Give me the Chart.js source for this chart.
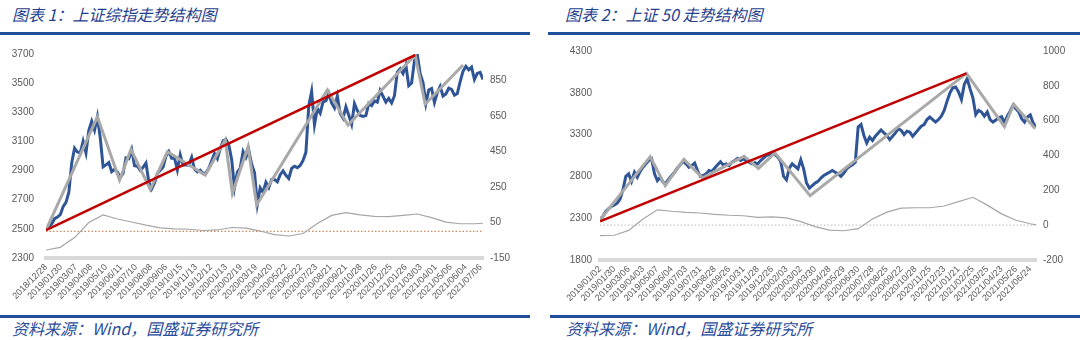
<!DOCTYPE html>
<html>
<head>
<meta charset="utf-8">
<script src="https://cdn.jsdelivr.net/npm/chart.js@4.4.0/dist/chart.umd.min.js"></script>
<style>
  body { margin: 0; width: 1080px; height: 340px; background: #fff; position: relative; overflow: hidden;
         font-family: "Noto Sans CJK SC", sans-serif; }
  .title { position: absolute; top: 2px; font-size: 16px; font-style: italic; color: #1f3f8f; white-space: nowrap; }
  .src { position: absolute; top: 316px; font-size: 16px; font-style: italic; color: #2a4d9c; white-space: nowrap; }
  .rule { position: absolute; height: 3px; background: #1f4e9c; }
  canvas { position: absolute; top: 36px; }
</style>
</head>
<body>
<div class="title" style="left:12px">图表 1：上证综指走势结构图</div>
<div class="title" style="left:565px">图表 2：上证 50 走势结构图</div>
<div class="rule" style="left:0;width:530px;top:32px"></div>
<div class="rule" style="left:548px;width:532px;top:32px"></div>
<div class="rule" style="left:0;width:530px;top:315px"></div>
<div class="rule" style="left:550px;width:530px;top:315px"></div>
<div class="src" style="left:12px">资料来源：Wind，国盛证券研究所</div>
<div class="src" style="left:566px">资料来源：Wind，国盛证券研究所</div>
<canvas id="c1" width="535" height="280" style="left:0"></canvas>
<canvas id="c2" width="540" height="280" style="left:540px"></canvas>
<script>
// ---- chart 1: 上证综指 (x = trading-day index) ----
const dates1 = ["2018/12/28","2019/01/30","2019/03/07","2019/04/08","2019/05/10","2019/06/11","2019/07/10",
  "2019/08/08","2019/09/06","2019/10/15","2019/11/13","2019/12/12","2020/01/13","2020/02/19","2020/03/19",
  "2020/04/20","2020/05/22","2020/06/22","2020/07/23","2020/08/21","2020/09/21","2020/10/28","2020/11/26",
  "2020/12/25","2021/01/26","2021/03/03","2021/04/01","2021/05/06","2021/06/04","2021/07/06"];
const labelStep1 = 21;
const lastDay1 = 612;
const priceStep = 4;
const price1 = [
  2494, 2514, 2535, 2570, 2581, 2597, 2653, 2682, 2751, 2953,
  3054, 3027, 3021, 3101, 3022, 3176, 3239, 3177, 3270, 3124,
  2926, 2939, 2955, 2892, 2909, 2890, 2852, 2882, 2987, 2982,
  3043, 2933, 2930, 2901, 2923, 2952, 2821, 2774, 2815, 2880,
  2902, 2924, 2999, 3031, 2985, 2985, 2905, 3008, 2938, 2940,
  2939, 2991, 2909, 2891, 2903, 2880, 2884, 2915, 2967, 3017,
  2982, 3050, 3104, 3115, 3075, 2977, 2783, 2890, 2917, 3030,
  2990, 3040, 2943, 2887, 2670, 2781, 2750, 2820, 2783, 2838,
  2838, 2823, 2872, 2898, 2868, 2846, 2915, 2930, 2920, 2935,
  2970, 3025, 3345, 3443, 3214, 3325, 3294, 3371, 3379, 3430,
  3364, 3330, 3411, 3292, 3260, 3338, 3279, 3218, 3359, 3312,
  3278, 3272, 3277, 3360, 3346, 3378, 3369, 3449, 3410, 3369,
  3395, 3364, 3414, 3576, 3598, 3566, 3624, 3483, 3501, 3655,
  3696, 3564, 3503, 3360, 3453, 3463, 3367, 3435, 3477, 3412,
  3426, 3465, 3457, 3418, 3429, 3510, 3581, 3615, 3592, 3610,
  3525, 3567, 3574, 3525];
const zigDays1 = [0, 72, 103, 119, 146, 170, 223, 251, 261, 283, 295, 394, 423, 517, 531, 584];
const zigVals1 = [2492, 3269, 2835, 3046, 2771, 3029, 2869, 3110, 2744, 3064, 2664, 3453, 3213, 3693, 3355, 3624];
const trendDays1 = [0, 517];
const trendVals1 = [2492, 3693];
const oscStep = 20;
const osc1 = [-105, -90, -35, 50, 93, 70, 53, 35, 20, 14, 12, 5, 8, 22, 18, 2,
  -18, -26, -12, 45, 90, 106, 93, 85, 83, 90, 98, 78, 52, 43, 43, 46];
const leftTicks1 = [2300, 2500, 2700, 2900, 3100, 3300, 3500, 3700];
const rightTicks1 = [-150, 50, 250, 450, 650, 850];

// ---- chart 2: 上证50 ----
const dates2 = ["2019/01/02","2019/01/30","2019/03/06","2019/04/03","2019/05/07","2019/06/04","2019/07/03",
  "2019/07/31","2019/08/28","2019/09/26","2019/10/31","2019/11/28","2019/12/26","2020/02/03","2020/03/02",
  "2020/03/30","2020/04/28","2020/05/29","2020/06/30","2020/07/28","2020/08/25","2020/09/22","2020/10/28",
  "2020/11/25","2020/12/23","2021/01/21","2021/02/25","2021/03/25","2021/04/23","2021/05/26","2021/06/24"];
const labelStep2 = 20;
const lastDay2 = 608;
const price2 = [
  2290, 2320, 2380, 2415, 2440, 2458, 2480, 2530, 2640, 2800,
  2830, 2740, 2850, 2790, 2860, 2910, 2950, 2990, 3010, 2830,
  2750, 2790, 2730, 2720, 2770, 2810, 2850, 2900, 2940, 2980,
  2950, 2910, 2930, 2960, 2870, 2800, 2810, 2830, 2870, 2860,
  2900, 2940, 2975, 2935, 2950, 2930, 2970, 2990, 3015, 2990,
  3010, 2985, 2970, 2950, 2965, 2950, 2990, 3020, 3050, 3060,
  3080, 3060, 3030, 2980, 2800, 2760, 2900, 2950, 2920, 2890,
  3000, 2890, 2720, 2660, 2690, 2720, 2740, 2780, 2810, 2830,
  2850, 2870, 2850, 2830, 2800, 2840, 2890, 2920, 2940, 2970,
  3390, 3420, 3290, 3200, 3270, 3230, 3280, 3320, 3355, 3320,
  3290, 3240, 3280, 3320, 3370, 3350, 3300, 3340, 3330, 3280,
  3320, 3360, 3400, 3420, 3480, 3510, 3480, 3450, 3480, 3520,
  3590, 3700, 3800, 3860, 3870, 3810, 3720, 3900, 3970, 3850,
  3740, 3540, 3590, 3570, 3520, 3570, 3480, 3450, 3475, 3500,
  3515, 3440, 3520, 3580, 3650, 3610, 3570, 3490, 3450, 3510,
  3535, 3440, 3390];
const zigDays2 = [0, 70, 91, 117, 143, 201, 221, 244, 293, 511, 564, 577, 607];
const zigVals2 = [2278, 3036, 2690, 3004, 2783, 3040, 2896, 3082, 2570, 4033, 3394, 3663, 3370];
const trendDays2 = [0, 511];
const trendVals2 = [2262, 4033];
const osc2 = [-60, -58, -30, 35, 88, 80, 74, 70, 62, 57, 54, 45, 48, 42, 20, -8,
  -28, -32, -20, 35, 75, 98, 100, 100, 110, 135, 160, 115, 65, 28, 8, 2];
const leftTicks2 = [1800, 2300, 2800, 3300, 3800, 4300];
const rightTicks2 = [-200, 0, 200, 400, 600, 800, 1000];

function pairs(xs, ys) { return ys.map((v, i) => ({ x: xs[i], y: v })); }

function buildChart(id, o) {
  const tickFont = { family: "'Liberation Sans', Arial, sans-serif", size: 10 };
  const sized = (prop, v) => (s) => { s[prop] = v; };
  const plain = (v) => String(v);   // no thousands separator
  return new Chart(document.getElementById(id), {
    type: 'line',
    data: {
      datasets: [
        { data: pairs(o.trendDays, o.trendVals), yAxisID: 'y', borderColor: '#c00000', borderWidth: 2.5, order: 0 },
        { data: pairs(o.zigDays, o.zigVals), yAxisID: 'y', borderColor: '#a9a9a9', borderWidth: 3, order: 1 },
        { data: o.price.map((v, i) => ({ x: Math.min(i * priceStep, o.lastDay), y: v })), yAxisID: 'y',
          borderColor: '#2f5597', borderWidth: 3, order: 2 },
        { data: o.osc.map((v, i) => ({ x: Math.min(i * oscStep, o.lastDay), y: v })), yAxisID: 'y2',
          borderColor: '#a6a6a6', borderWidth: 1.2, order: 3 },
        { data: [{ x: 0, y: 0 }, { x: o.lastDay, y: 0 }], yAxisID: 'y2', borderColor: o.zeroColor,
          borderWidth: 1.2, borderDash: [1.5, 2], order: 4 }
      ]
    },
    options: {
      responsive: false,
      animation: false,
      events: [],
      elements: { point: { radius: 0 }, line: { tension: 0, fill: false } },
      layout: { padding: { top: o.padTop, left: 0, right: 0, bottom: 0 } },
      plugins: { legend: { display: false }, tooltip: { enabled: false } },
      scales: {
        x: {
          type: 'linear', min: 0, max: o.lastDay,
          grid: { display: false, drawTicks: false },
          border: { display: true, color: '#d9d9d9', width: 4 },
          afterBuildTicks: (s) => { s.ticks = o.dates.map((_, i) => ({ value: i * o.labelStep })); },
          afterFit: sized('height', o.xHeight),
          ticks: { autoSkip: false, maxRotation: 45, minRotation: 45, padding: 4, color: '#595959',
                   font: { family: tickFont.family, size: 9 },
                   callback: (v, i) => o.dates[i] }
        },
        y: {
          position: 'left', min: o.leftTicks[0], max: o.leftTicks[o.leftTicks.length - 1],
          grid: { display: false, drawTicks: false }, border: { display: false },
          afterBuildTicks: (s) => { s.ticks = o.leftTicks.map(v => ({ value: v })); },
          afterFit: sized('width', o.leftWidth),
          ticks: { padding: o.leftPad, color: '#595959', font: tickFont, callback: plain }
        },
        y2: {
          position: 'right', min: o.rightTicks[0], max: o.rightMax,
          grid: { display: false, drawTicks: false }, border: { display: false },
          afterBuildTicks: (s) => { s.ticks = o.rightTicks.map(v => ({ value: v })); },
          afterFit: sized('width', o.rightWidth),
          ticks: { padding: 7, color: '#595959', font: tickFont, callback: plain }
        }
      }
    }
  });
}

buildChart('c1', {
  dates: dates1, labelStep: labelStep1, lastDay: lastDay1, price: price1,
  zigDays: zigDays1, zigVals: zigVals1, trendDays: trendDays1, trendVals: trendVals1,
  osc: osc1, leftTicks: leftTicks1, rightTicks: rightTicks1, rightMax: 1000,
  zeroColor: '#d08a5c', padTop: 18, xHeight: 58, leftWidth: 46, leftPad: 12, rightWidth: 52
});
buildChart('c2', {
  dates: dates2, labelStep: labelStep2, lastDay: lastDay2, price: price2,
  zigDays: zigDays2, zigVals: zigVals2, trendDays: trendDays2, trendVals: trendVals2,
  osc: osc2, leftTicks: leftTicks2, rightTicks: rightTicks2, rightMax: 1000,
  zeroColor: '#c8c8c8', padTop: 15, xHeight: 56, leftWidth: 60, leftPad: 8, rightWidth: 44
});
</script>
</body>
</html>
